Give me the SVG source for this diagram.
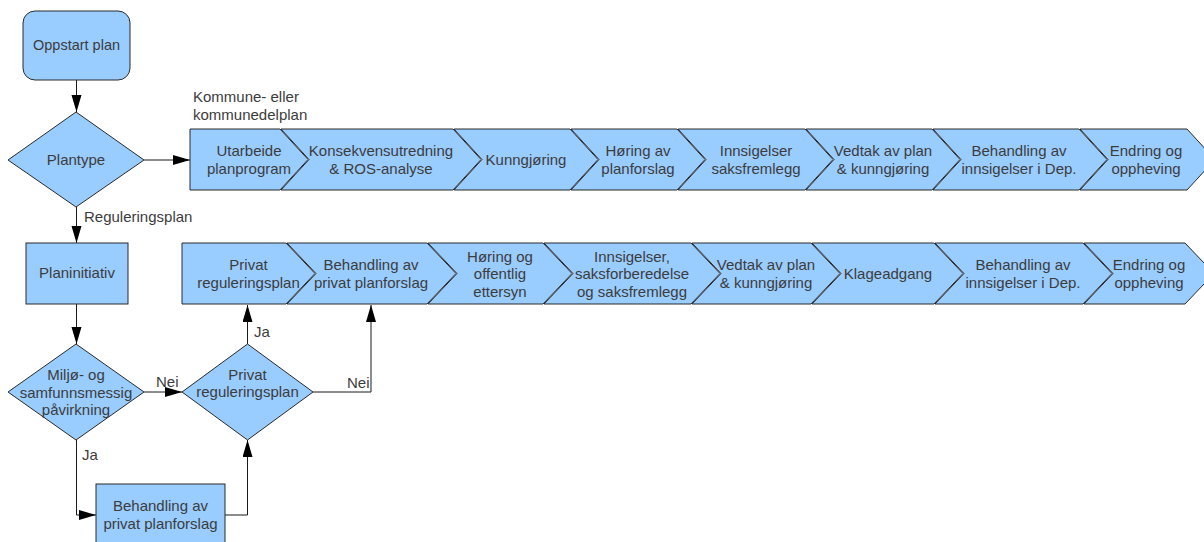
<svg xmlns="http://www.w3.org/2000/svg" width="1204" height="542" viewBox="0 0 1204 542">
<style>
.n{fill:#99ccff;stroke:#2a2a2a;stroke-width:1}
.t{font-family:"Liberation Sans",Arial,sans-serif;font-size:15px;fill:#3c3c3c;text-anchor:middle}
.l{font-family:"Liberation Sans",Arial,sans-serif;font-size:15px;fill:#3c3c3c}
.c{fill:none;stroke:#1a1a1a;stroke-width:1}
</style>
<defs>
<marker id="a" markerUnits="userSpaceOnUse" markerWidth="18" markerHeight="12" refX="17" refY="5" orient="auto">
<path d="M0,0 L17,5 L0,10 z" fill="#000"/>
</marker>
</defs>
<rect width="1204" height="542" fill="#fff"/>

<g id="connectors">
<path class="c" d="M76.5,80 V112" marker-end="url(#a)"/>
<path class="c" d="M144,160 H190" marker-end="url(#a)"/>
<path class="c" d="M76.5,207 V243" marker-end="url(#a)"/>
<path class="c" d="M76.5,304 V344" marker-end="url(#a)"/>
<path class="c" d="M144,392 H182" marker-end="url(#a)"/>
<path class="c" d="M76.5,440 V515 H96" marker-end="url(#a)"/>
<path class="c" d="M225,515 H247.5 V440" marker-end="url(#a)"/>
<path class="c" d="M247.5,344 V305" marker-end="url(#a)"/>
<path class="c" d="M313,392 H371 V305" marker-end="url(#a)"/>
<text class="l" x="84" y="222">Reguleringsplan</text>
<text class="l" x="156" y="387">Nei</text>
<text class="l" x="347" y="388">Nei</text>
<text class="l" x="254" y="337">Ja</text>
<text class="l" x="82" y="460">Ja</text>
<text class="l" x="193" y="102">Kommune- eller</text>
<text class="l" x="193" y="120">kommunedelplan</text>
</g>

<g id="oppstart">
<rect class="n" x="23" y="11" width="107" height="69" rx="12"/>
<text class="t" x="76.5" y="50" style="font-size:14.5px">Oppstart plan</text>
</g>

<g id="plantype">
<polygon class="n" points="76,112 144,160 76,207 8,160"/>
<text class="t" x="76" y="165">Plantype</text>
</g>

<g id="planinitiativ">
<rect class="n" x="26" y="243" width="102" height="61"/>
<text class="t" x="77" y="278">Planinitiativ</text>
</g>

<g id="miljo">
<polygon class="n" points="76,344 144,392 76,440 8,392"/>
<text class="t" x="76" y="380">Miljø- og</text>
<text class="t" x="76" y="397.5">samfunnsmessig</text>
<text class="t" x="76" y="415">påvirkning</text>
</g>

<g id="privat-beslutning">
<polygon class="n" points="247.5,344 313,392 247.5,440 182,392"/>
<text class="t" x="247.5" y="380">Privat</text>
<text class="t" x="247.5" y="397">reguleringsplan</text>
</g>

<g id="behandling-privat">
<rect class="n" x="96" y="484" width="129" height="62"/>
<text class="t" x="160.5" y="511">Behandling av</text>
<text class="t" x="160.5" y="528.5">privat planforslag</text>
</g>

<!-- Row 1 chevrons -->
<g id="k1">
<polygon class="n" points="190,129 280,129 308,159.5 280,190 190,190"/>
<text class="t" x="249" y="156">Utarbeide</text>
<text class="t" x="249" y="173.5">planprogram</text>
</g>
<g id="k2">
<polygon class="n" points="281,129 453,129 481,159.5 453,190 281,190 309,159.5"/>
<text class="t" x="381" y="156">Konsekvensutredning</text>
<text class="t" x="381" y="173.5">&amp; ROS-analyse</text>
</g>
<g id="k3">
<polygon class="n" points="454,129 570,129 598,159.5 570,190 454,190 482,159.5"/>
<text class="t" x="526" y="165">Kunngjøring</text>
</g>
<g id="k4">
<polygon class="n" points="571,129 677,129 705,159.5 677,190 571,190 599,159.5"/>
<text class="t" x="638" y="156">Høring av</text>
<text class="t" x="638" y="173.5">planforslag</text>
</g>
<g id="k5">
<polygon class="n" points="678,129 805,129 833,159.5 805,190 678,190 706,159.5"/>
<text class="t" x="756" y="156">Innsigelser</text>
<text class="t" x="756" y="173.5">saksfremlegg</text>
</g>
<g id="k6">
<polygon class="n" points="806,129 932,129 960,159.5 932,190 806,190 834,159.5"/>
<text class="t" x="883" y="156">Vedtak av plan</text>
<text class="t" x="883" y="173.5">&amp; kunngjøring</text>
</g>
<g id="k7">
<polygon class="n" points="933,129 1079,129 1107,159.5 1079,190 933,190 961,159.5"/>
<text class="t" x="1019" y="156">Behandling av</text>
<text class="t" x="1019" y="173.5">innsigelser i Dep.</text>
</g>
<g id="k8">
<polygon class="n" points="1080,129 1187,129 1215,159.5 1187,190 1080,190 1108,159.5"/>
<text class="t" x="1146" y="156">Endring og</text>
<text class="t" x="1146" y="173.5">oppheving</text>
</g>

<!-- Row 2 chevrons -->
<g id="r1">
<polygon class="n" points="182,243 286,243 315,273.5 286,304 182,304"/>
<text class="t" x="248.5" y="270">Privat</text>
<text class="t" x="248.5" y="287.5">reguleringsplan</text>
</g>
<g id="r2">
<polygon class="n" points="287,243 427,243 456,273.5 427,304 287,304 316,273.5"/>
<text class="t" x="371" y="270">Behandling av</text>
<text class="t" x="371" y="287.5">privat planforslag</text>
</g>
<g id="r3">
<polygon class="n" points="428,243 543,243 572,273.5 543,304 428,304 457,273.5"/>
<text class="t" x="500" y="261.5">Høring og</text>
<text class="t" x="500" y="279">offentlig</text>
<text class="t" x="500" y="296.5">ettersyn</text>
</g>
<g id="r4">
<polygon class="n" points="544,243 691,243 720,273.5 691,304 544,304 573,273.5"/>
<text class="t" x="632" y="261.5">Innsigelser,</text>
<text class="t" x="632" y="279">saksforberedelse</text>
<text class="t" x="632" y="296.5">og saksfremlegg</text>
</g>
<g id="r5">
<polygon class="n" points="692,243 811,243 840,273.5 811,304 692,304 721,273.5"/>
<text class="t" x="766" y="270">Vedtak av plan</text>
<text class="t" x="766" y="287.5">&amp; kunngjøring</text>
</g>
<g id="r6">
<polygon class="n" points="812,243 934,243 963,273.5 934,304 812,304 841,273.5"/>
<text class="t" x="888" y="278.5">Klageadgang</text>
</g>
<g id="r7">
<polygon class="n" points="935,243 1083,243 1112,273.5 1083,304 935,304 964,273.5"/>
<text class="t" x="1023" y="270">Behandling av</text>
<text class="t" x="1023" y="287.5">innsigelser i Dep.</text>
</g>
<g id="r8">
<polygon class="n" points="1084,243 1185,243 1214,273.5 1185,304 1084,304 1113,273.5"/>
<text class="t" x="1149" y="270">Endring og</text>
<text class="t" x="1149" y="287.5">oppheving</text>
</g>
</svg>
